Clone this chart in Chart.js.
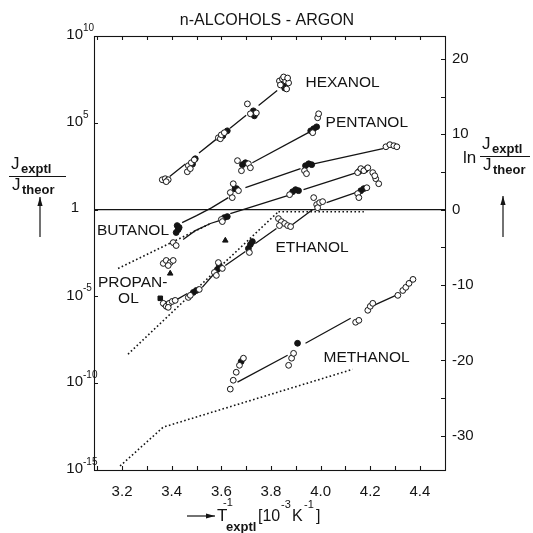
<!DOCTYPE html>
<html>
<head>
<meta charset="utf-8">
<script src="https://cdn.jsdelivr.net/npm/chart.js@4.4.1/dist/chart.umd.min.js"></script>
<style>
html,body{margin:0;padding:0;background:#fff}
canvas{display:block}
</style>
</head>
<body>
<canvas id="c" width="533" height="533"></canvas>
<script>
// ---- axes ----
const xTickLabels = [3.2, 3.4, 3.6, 3.8, 4.0, 4.2, 4.4];
const xMinorTicks = [3.1, 3.2, 3.3, 3.4, 3.5, 3.6, 3.7, 3.8, 3.9, 4.0, 4.1, 4.2, 4.3, 4.4];
const yTickExponents = [10, 5, 0, -5, -10, -15];
const lnTickLabels = [20, 10, 0, -10, -20, -30];
const lnMinorTicks = [20, 15, 10, 5, 0, -5, -10, -15, -20, -25, -30];

// ---- measurements: [1/T (10^-3 K^-1), log10(Jexptl/Jtheor)] ----
const hexanolOpen = [[3.362,1.72],[3.374,1.78],[3.386,1.72],[3.378,1.61],
  [3.463,2.18],[3.467,2.53],[3.479,2.70],[3.475,2.36],[3.491,2.87],
  [3.588,4.14],[3.596,4.08],[3.600,4.31],[3.612,4.43],
  [3.705,6.09],[3.717,5.52],[3.741,5.57],
  [3.834,7.41],[3.846,7.53],[3.859,7.41],[3.871,7.30],[3.838,7.18],[3.863,6.95],[3.851,7.64],[3.867,7.58]];
const hexanolFilled = [[3.370,1.70],[3.484,2.62],[3.495,2.93],[3.606,4.25],[3.624,4.54],[3.729,5.69],[3.733,5.40],[3.850,7.20],[3.855,7.00]];

const pentanolOpen = [[3.665,2.82],[3.681,2.24],[3.709,2.64],[3.717,2.41],[3.988,5.29],[3.992,5.52],[3.968,4.43]];
const pentanolFilled = [[3.685,2.59],[3.697,2.70],[3.960,4.54],[3.972,4.66],[3.984,4.77]];

const butanolOpen = [[3.636,0.98],[3.644,0.69],[3.669,1.09],[3.648,1.49],[3.935,2.24],[3.943,2.07],
  [4.263,3.62],[4.279,3.74],[4.295,3.68],[4.307,3.62]];
const butanolFilled = [[3.422,-0.92],[3.426,-1.15],[3.418,-1.32],[3.430,-1.03],[3.655,1.20],[3.661,1.21],
  [3.939,2.53],[3.952,2.64],[3.964,2.59]];

const propanolOpen = [[3.366,-3.10],[3.378,-2.93],[3.394,-3.05],[3.406,-2.93],[3.386,-3.22],
  [3.406,-1.90],[3.418,-2.07],[3.600,-0.57],[3.604,-0.69],[3.875,0.86],
  [4.149,2.13],[4.162,2.36],[4.174,2.24],[4.190,2.41],[4.210,2.13],[4.222,1.78],[4.234,1.49],[4.218,1.95]];
const propanolFilled = [[3.612,-0.46],[3.624,-0.40],[3.887,1.03],[3.899,1.15],[3.911,1.09],[4.155,2.20],[4.180,2.30]];

const ethanolOpen = [[3.366,-5.40],[3.378,-5.57],[3.390,-5.40],[3.402,-5.29],[3.414,-5.23],[3.386,-5.63],
  [3.467,-5.06],[3.475,-4.94],[3.511,-4.60],
  [3.572,-3.62],[3.580,-3.79],[3.588,-3.05],[3.604,-3.39],
  [3.713,-2.47],
  [3.830,-0.52],[3.842,-0.69],[3.855,-0.80],[3.867,-0.92],[3.879,-0.98],[3.834,-0.92],
  [3.972,0.69],[3.984,0.29],[3.996,0.40],[4.008,0.46],[3.988,0.11],
  [4.149,0.92],[4.154,0.69],[4.186,1.26]];
const ethanolFilled = [[3.372,-5.45],[3.487,-4.77],[3.499,-4.66],[3.584,-3.45],[3.592,-3.22],
  [3.709,-2.24],[3.717,-2.01],[3.725,-1.84],[3.846,-0.75],[4.162,1.09],[4.174,1.21]];

const methanolOpen = [[3.636,-10.34],[3.648,-9.83],[3.660,-9.37],[3.673,-8.97],[3.689,-8.56],
  [3.871,-8.97],[3.883,-8.56],[3.891,-8.28],
  [4.141,-6.49],[4.154,-6.38],[4.190,-5.80],[4.200,-5.57],[4.210,-5.40],
  [4.311,-4.94],[4.331,-4.66],[4.343,-4.48],[4.356,-4.25],[4.372,-4.02]];
const methanolFilled = [[3.680,-8.75],[3.907,-7.70]];

const otherTriangles = [[3.616,-1.78],[3.394,-3.68]];
const otherSquares = [[3.354,-5.11]];

// ---- fitted curves (broken where the measurement clusters sit) ----
const hexanolFit = [[[3.392,1.91],[3.455,2.63]],[[3.510,3.26],[3.580,4.06]],[[3.635,4.69],[3.700,5.43]],[[3.750,6.00],[3.825,6.86]]];
const pentanolFit = [[[3.725,2.70],[3.956,4.48]]];
const butanolFit = [[[3.442,-0.75],[3.500,-0.35],[3.560,0.10],[3.628,0.69]],[[3.697,1.26],[3.919,2.36]],[[3.972,2.64],[4.251,3.51]]];
const propanolFit = [[[3.446,-1.72],[3.495,-1.21],[3.556,-0.80],[3.592,-0.63]],[[3.636,-0.23],[3.867,0.80]],[[3.931,1.15],[4.145,2.13]]];
const ethanolFit = [[[3.422,-5.17],[3.463,-4.83]],[[3.523,-4.48],[3.568,-3.74]],[[3.616,-3.22],[3.697,-2.41]],
  [[3.737,-1.95],[3.822,-1.09]],[[3.887,-0.86],[3.968,0.00]],[[4.024,0.40],[4.141,0.98]]];
const methanolFit = [[[3.665,-9.94],[3.867,-8.39]],[[3.939,-7.70],[4.121,-6.26]],[[4.214,-5.52],[4.303,-4.94]]];

// ---- theoretical / extrapolated curves (dotted) ----
const dottedUpper = [[3.184,-3.39],[3.556,-0.80]];
const dottedEthanol = [[3.224,-8.33],[3.515,-4.37],[3.826,-0.17]];
const dottedEthanolFlat = [[3.830,-0.12],[4.174,-0.12]];
const dottedMethanol = [[3.192,-14.77],[3.366,-12.53],[4.129,-9.20]];

const unityLine = [[3.0,0],[4.6,0]];

// ---- annotations ----
const seriesLabels = [
  ['HEXANOL', 3.939, 7.30],
  ['PENTANOL', 4.020, 5.00],
  ['BUTANOL', 3.099, -1.21],
  ['ETHANOL', 3.818, -2.18],
  ['PROPAN-', 3.103, -4.20],
  ['OL', 3.184, -5.14],
  ['METHANOL', 4.012, -8.56]
];

const FONT = '"Liberation Sans", Arial, Helvetica, sans-serif';
const INK = '#141414';

const toPts = arr => arr.map(([x, l]) => ({x: x, y: Math.pow(10, l)}));
const toSegs = segs => {
  const out = [];
  segs.forEach((s, i) => {
    if (i) out.push({x: s[0][0], y: null});
    s.forEach(([x, l]) => out.push({x: x, y: Math.pow(10, l)}));
  });
  return out;
};

const markers = (data, filled, style, r) => ({
  type: 'scatter', data: toPts(data), order: 0,
  pointStyle: style || 'circle', pointRadius: r || 2.9, pointBorderWidth: 1,
  pointBackgroundColor: filled ? INK : '#fff', pointBorderColor: INK, showLine: false
});
const solid = segs => ({
  type: 'line', data: toSegs(segs), order: 2, borderColor: INK, borderWidth: 1.3,
  pointRadius: 0, spanGaps: false, tension: 0, fill: false
});
const dotted = pts => ({
  type: 'line', data: toPts(pts), order: 2, borderColor: INK, borderWidth: 1.6,
  borderDash: [1.6, 2.4], pointRadius: 0, tension: 0, fill: false
});

const datasets = [
  markers(hexanolOpen, false), markers(hexanolFilled, true),
  markers(pentanolOpen, false), markers(pentanolFilled, true),
  markers(butanolOpen, false), markers(butanolFilled, true),
  markers(propanolOpen, false), markers(propanolFilled, true),
  markers(ethanolOpen, false), markers(ethanolFilled, true),
  markers(methanolOpen, false), markers(methanolFilled, true),
  markers(otherTriangles, true, 'triangle', 3.2),
  markers(otherSquares, true, 'rect', 3.2),
  solid(hexanolFit), solid(pentanolFit), solid(butanolFit), solid(propanolFit),
  solid(ethanolFit), solid(methanolFit),
  dotted(dottedUpper), dotted(dottedEthanol), dotted(dottedEthanolFlat), dotted(dottedMethanol),
  Object.assign(solid([unityLine]), {borderWidth: 1.1})
];

function arrow(ctx, x1, y1, x2, y2) {
  ctx.beginPath(); ctx.moveTo(x1, y1); ctx.lineTo(x2, y2); ctx.stroke();
  const ang = Math.atan2(y2 - y1, x2 - x1), L = 9, W = 2.6;
  ctx.beginPath();
  ctx.moveTo(x2, y2);
  ctx.lineTo(x2 - L * Math.cos(ang) + W * Math.sin(ang), y2 - L * Math.sin(ang) - W * Math.cos(ang));
  ctx.lineTo(x2 - L * Math.cos(ang) - W * Math.sin(ang), y2 - L * Math.sin(ang) + W * Math.cos(ang));
  ctx.closePath(); ctx.fill();
}

function fraction(ctx, x, yBar, w) {
  // J_exptl over J_theor
  ctx.textAlign = 'left'; ctx.textBaseline = 'alphabetic';
  ctx.font = '17px ' + FONT; ctx.fillText('J', x + 2, yBar - 7);
  ctx.font = 'bold 13px ' + FONT; ctx.fillText('exptl', x + 12, yBar - 3);
  ctx.beginPath(); ctx.moveTo(x, yBar + 0.5); ctx.lineTo(x + w, yBar + 0.5); ctx.stroke();
  ctx.font = '17px ' + FONT; ctx.fillText('J', x + 3, yBar + 14);
  ctx.font = 'bold 13px ' + FONT; ctx.fillText('theor', x + 13, yBar + 18);
}

const decorations = {
  id: 'decorations',
  afterDatasetsDraw(chart) {
    const {ctx, chartArea: a, scales} = chart;
    const xs = scales.x, ys = scales.y, yr = scales.yR;
    ctx.save();
    ctx.strokeStyle = INK; ctx.fillStyle = INK; ctx.lineWidth = 1.1;
    ctx.strokeRect(a.left + 0.5, a.top + 0.5, a.right - a.left, a.bottom - a.top);

    // inward tick marks
    ctx.beginPath();
    xMinorTicks.forEach(v => {
      const px = Math.round(xs.getPixelForValue(v)) + 0.5;
      ctx.moveTo(px, a.bottom); ctx.lineTo(px, a.bottom - 4);
      ctx.moveTo(px, a.top); ctx.lineTo(px, a.top + 4);
    });
    yTickExponents.forEach(e => {
      const py = Math.round(ys.getPixelForValue(Math.pow(10, e))) + 0.5;
      ctx.moveTo(a.left, py); ctx.lineTo(a.left + 4, py);
    });
    lnMinorTicks.forEach(v => {
      const py = Math.round(yr.getPixelForValue(v)) + 0.5;
      ctx.moveTo(a.right, py); ctx.lineTo(a.right - 4, py);
    });
    ctx.stroke();

    // x tick labels
    ctx.font = '15px ' + FONT; ctx.textAlign = 'center'; ctx.textBaseline = 'middle';
    xTickLabels.forEach(v => ctx.fillText(v.toFixed(1), xs.getPixelForValue(v), a.bottom + 22));

    // left tick labels (powers of ten)
    yTickExponents.forEach(e => {
      const py = ys.getPixelForValue(Math.pow(10, e));
      ctx.textBaseline = 'middle';
      if (e === 0) {
        ctx.font = '15px ' + FONT; ctx.textAlign = 'right'; ctx.fillText('1', 79, py - 2);
      } else {
        ctx.font = '15px ' + FONT; ctx.textAlign = 'right'; ctx.fillText('10', 83, py - 1);
        ctx.font = '10px ' + FONT; ctx.textAlign = 'left'; ctx.fillText(String(e), 83, py - 8);
      }
    });

    // right tick labels (natural log)
    ctx.font = '15px ' + FONT; ctx.textAlign = 'left'; ctx.textBaseline = 'middle';
    lnTickLabels.forEach(v => ctx.fillText(String(v), a.right + 7, yr.getPixelForValue(v)));

    // title
    ctx.font = '16px ' + FONT; ctx.textAlign = 'center';
    ctx.fillText('n-ALCOHOLS - ARGON', 267, 21);

    // curve names
    ctx.font = '15.5px ' + FONT; ctx.textAlign = 'left'; ctx.textBaseline = 'middle';
    seriesLabels.forEach(([t, x, l]) => ctx.fillText(t, xs.getPixelForValue(x), ys.getPixelForValue(Math.pow(10, l))));

    // left axis title
    ctx.lineWidth = 1.2;
    fraction(ctx, 9, 176, 57);
    arrow(ctx, 40, 237, 40, 197);

    // right axis title
    ctx.font = '17px ' + FONT; ctx.textAlign = 'left'; ctx.textBaseline = 'alphabetic';
    ctx.fillText('ln', 463, 163);
    fraction(ctx, 480, 156, 50);
    arrow(ctx, 503, 237, 503, 196);

    // x axis title
    arrow(ctx, 187, 516, 215, 516);
    ctx.textAlign = 'left'; ctx.textBaseline = 'alphabetic';
    ctx.font = '17px ' + FONT; ctx.fillText('T', 217, 521);
    ctx.font = '11px ' + FONT; ctx.fillText('-1', 223, 506);
    ctx.font = 'bold 13px ' + FONT; ctx.fillText('exptl', 226, 531);
    ctx.font = '16px ' + FONT; ctx.fillText('[10', 258, 521);
    ctx.font = '11px ' + FONT; ctx.fillText('-3', 281, 508);
    ctx.font = '16px ' + FONT; ctx.fillText('K', 292, 521);
    ctx.font = '11px ' + FONT; ctx.fillText('-1', 304, 508);
    ctx.font = '16px ' + FONT; ctx.fillText(']', 316, 521);
    ctx.restore();
  }
};

new Chart(document.getElementById('c'), {
  data: {datasets: datasets},
  options: {
    responsive: false, animation: false, devicePixelRatio: 1,
    layout: {padding: {left: 94, right: 88, top: 36, bottom: 63}},
    plugins: {legend: {display: false}, tooltip: {enabled: false}, title: {display: false}},
    scales: {
      x: {type: 'linear', min: 3.087, max: 4.501, display: false},
      y: {type: 'logarithmic', min: 1e-15, max: 1e10, display: false},
      yR: {type: 'linear', position: 'right', min: Math.log(1e-15), max: Math.log(1e10), display: false}
    }
  },
  plugins: [decorations]
});
</script>
</body>
</html>
